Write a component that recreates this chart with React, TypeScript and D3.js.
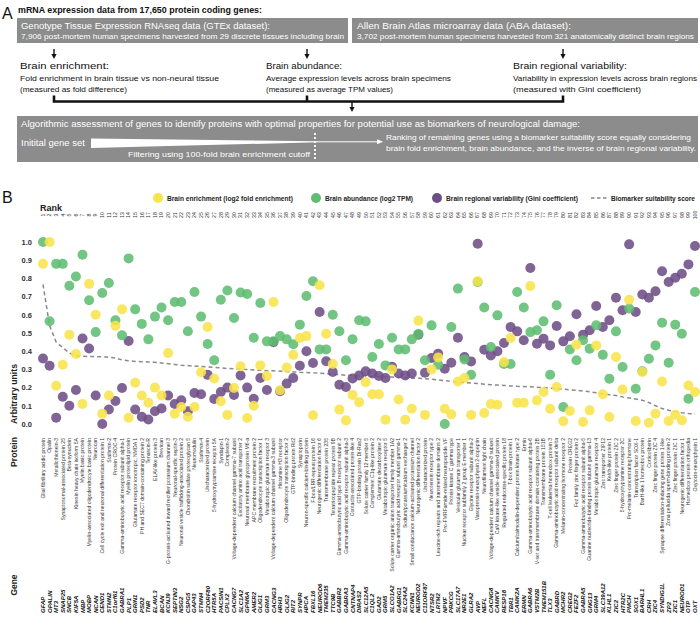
import React from 'react';
import * as d3 from 'd3';

const genes = ['GFAP','OPALIN','MT3','SNAP25','SNCB','KIF5A','MBP','MOBP','NCAN','CEND1','STMN2','C1orf61','GABRA1','PLP1','GRIN1','PSD2','TNR','ELAVL3','BCAN','KCNJ9','SEPTIN3','NSG2','CSPG5','GAP43','STMN4','C2ORF80','HTR5A','PACSIN1','CPLX2','CACNG7','SLC1A2','GPM6A','AMER2','OLIG1','GRM3','CACNG3','HRH3','OLIG2','RIT2','SYNPR','HPCA','FBXL16','NEUROD6','TMEM235','TTC9B','GABBR2','GABRA3','CNTNAP4','DIRAS2','SLC12A5','C1QL2','GAD2','GRM5','SLCO1A2','GABRG1','SLC24A2','KCNN1','NEUROD2','C11ORF87','NTSR2','LRTM2','NPVF','PRKCG','SLC17A7','NR2E1','GLRA2','AVP','NEFL','CACNG8','CAMKV','RESP18','TBR1','CAMK2A','ERMN','GABRA6','VSTM2B','TMEM151B','TLX3','GABRD','MCHR2','CREG2','FEZF2','GABRA5','GNG13','GRM4','SLC39A12','KLHL1','ZIC2','HTR2C','PMCH','SOX1','BARHL1','CRH','ZIC4','SYNDIG1L','ZP2','ZIC1','NEUROD1','OTP','OXT'];

const proteins = ['Glial fibrillary acidic protein','Opalin','Metallothionein-3','Synaptosomal-associated protein 25','Beta-synuclein','Kinesin heavy chain isoform 5A','Myelin basic protein','Myelin-associated oligodendrocyte basic protein','Neurocan','Cell cycle exit and neuronal differentiation protein 1','Stathmin-2','Protein CROC-4','Gamma-aminobutyric acid receptor subunit alpha-1','Myelin proteolipid protein','Glutamate receptor ionotropic, NMDA 1','PH and SEC7 domain-containing protein 2','Tenascin-R','ELAV-like protein 3','Brevican','G-protein-activated inward rectifier potassium channel 3','Neuronal-specific septin-3','Neuronal vesicle trafficking-associated protein 2','Chondroitin sulfate proteoglycan 5','Neuromodulin','Stathmin-4','Uncharacterized protein','5-hydroxytryptamine receptor 5A','Syndapin-1','Complexin-2','Voltage-dependent calcium channel gamma-7 subunit','Excitatory amino acid transporter 2','Neuronal membrane glycoprotein M6-a','APC membrane recruitment protein 2','Oligodendrocyte transcription factor 1','Metabotropic glutamate receptor 3','Voltage-dependent calcium channel gamma-3 subunit','Histamine H3 receptor','Oligodendrocyte transcription factor 2','GTP-binding protein Rit2','Synaptoporin','Neuron-specific calcium-binding protein','F-box/LRR-repeat protein 16','Neurogenic differentiation factor 6','Transmembrane protein 235','Tetratricopeptide repeat protein 9B','Gamma-aminobutyric acid type B receptor subunit 2','Gamma-aminobutyric acid receptor subunit alpha-3','Contactin-associated protein-like 4','GTP-binding protein Di-Ras2','Solute carrier family 12 member 5','Complement C1q-like protein 2','Glutamate decarboxylase 2','Metabotropic glutamate receptor 5','Solute carrier organic anion transporter family member 1A2','Gamma-aminobutyric acid receptor subunit gamma-1','Sodium/potassium/calcium exchanger 2','Small conductance calcium-activated potassium channel','Neurogenic differentiation factor 2','Uncharacterized protein','Neurotensin receptor type 2','Leucine-rich repeats and transmembrane domains 2','Pro-FMRFamide-related neuropeptide VF','Protein kinase C gamma type','Vesicular glutamate transporter 1','Nuclear receptor subfamily 2 group E member 1','Glycine receptor subunit alpha-2','Vasopressin-neurophysin 2-copeptin','Neurofilament light chain','Voltage-dependent calcium channel gamma-8 subunit','CaM kinase-like vesicle-associated protein','Regulated endocrine-specific protein 18','T-box brain protein 1','Calcium/calmodulin-dependent protein kinase type 2','Ermin','Gamma-aminobutyric acid receptor subunit alpha-6','V-set and transmembrane domain-containing protein 2B','Transmembrane protein 151B','T-cell leukemia homeobox protein 3','Gamma-aminobutyric acid receptor subunit delta','Melanin-concentrating hormone receptor 2','Protein CREG2','Fez family zinc finger protein 2','Gamma-aminobutyric acid receptor subunit alpha-5','Guanine nucleotide-binding protein subunit gamma-13','Metabotropic glutamate receptor 4','Zinc transporter ZIP12','Kelch-like protein 1','Zinc finger protein ZIC 2','5-hydroxytryptamine receptor 2C','Pro-melanin-concentrating hormone','Transcription factor SOX-1','BarH-like 1 homeobox protein','Corticoliberin','Zinc finger protein ZIC 4','Synapse differentiation-inducing gene protein 1-like','Zona pellucida sperm-binding protein 2','Zinc finger protein ZIC 1','Neurogenic differentiation factor 1','Homeobox protein orthopedia','Oxytocin-neurophysin 1'];

const enrichment = [0.88,1.0,0.21,0.326,0.49,0.385,0.11,0.77,0.60,0.057,
0.157,0.54,0.63,0.035,0.227,0.157,0.117,0.2,0.157,0.39,
0.057,0.093,0.04,0.093,0.284,0.533,0.25,0.125,0.05,0.198,
0.317,0.033,0.1,0.322,0.264,0.67,0.185,0.31,0.38,0.473,
0.483,0.048,0.762,0.496,0.33,0.079,0.02,0.16,0.12,0.23,
0.163,0.163,0.024,0.3,0.135,0.024,0.084,0.568,0.05,0.3,
0.366,0.084,0.053,0.234,0.253,0.05,0.784,0.06,0.11,0.106,
0.34,0.473,0.117,0.117,0.758,0.13,0.176,0.084,0.203,0.015,
0.071,0.436,0.011,0.075,0.432,0.163,0.038,0.368,0.19,0.683,
0.016,0.286,0.007,0.057,0.234,0.016,0.051,0.02,0.212,0.176];

const abundance = [1.0,0.565,0.88,0.88,0.76,0.81,0.93,0.68,0.505,0.72,
0.775,0.57,0.487,0.91,0.63,0.55,0.465,0.59,0.64,0.57,
0.67,0.67,0.51,0.725,0.59,0.44,0.35,0.683,0.734,0.582,
0.723,0.714,0.474,0.665,0.454,0.454,0.483,0.465,0.438,0.546,
0.703,0.784,0.41,0.41,0.6,0.51,0.35,0.466,0.57,0.564,
0.368,0.44,0.322,0.474,0.41,0.41,0.465,0.495,0.35,0.542,
0.326,0.0,0.533,0.744,0.355,0.27,0.78,0.64,0.423,0.597,
0.33,0.33,0.725,0.64,0.505,0.515,0.564,0.271,0.652,0.093,
0.41,0.35,0.46,0.414,0.542,0.38,0.249,0.509,0.313,0.634,
0.194,0.29,0.359,0.432,0.557,0.337,0.546,0.496,0.139,0.725];

const variability = [0.36,0.32,0.035,0.15,0.10,0.187,0.47,0.415,0.157,0.0,
0.08,0.126,0.198,0.456,0.08,0.04,0.025,0.07,0.085,0.157,
0.11,0.13,0.07,0.17,0.163,0.27,0.137,0.176,0.2,0.16,
0.267,0.2,0.139,0.253,0.187,0.45,0.18,0.222,0.253,0.32,
0.4,0.335,0.615,0.345,0.286,0.216,0.203,0.25,0.266,0.29,
0.277,0.264,0.253,0.315,0.277,0.267,0.277,0.49,0.282,0.363,
0.386,0.304,0.337,0.474,0.368,0.344,0.99,0.408,0.377,0.4,
0.445,0.533,0.509,0.46,0.857,0.441,0.469,0.432,0.538,0.454,
0.482,0.603,0.49,0.515,0.648,0.533,0.57,0.694,0.625,0.987,
0.615,0.712,0.694,0.729,0.839,0.78,0.804,0.826,0.877,0.978];

const suitability = [0.767,0.54,0.45,0.42,0.39,0.375,0.372,0.371,0.37,0.369,
0.368,0.362,0.352,0.347,0.344,0.342,0.341,0.339,0.335,0.331,
0.327,0.323,0.321,0.318,0.316,0.314,0.311,0.308,0.305,0.303,
0.301,0.299,0.297,0.295,0.293,0.292,0.29,0.288,0.286,0.284,
0.283,0.281,0.279,0.277,0.274,0.271,0.268,0.266,0.265,0.264,
0.262,0.261,0.259,0.258,0.256,0.254,0.252,0.251,0.249,0.246,
0.242,0.238,0.235,0.231,0.228,0.225,0.222,0.219,0.216,0.214,
0.212,0.209,0.207,0.206,0.204,0.202,0.2,0.197,0.194,0.191,
0.188,0.185,0.181,0.177,0.172,0.166,0.161,0.156,0.149,0.143,
0.137,0.13,0.118,0.1,0.085,0.076,0.068,0.062,0.058,0.055];

const yTicks = ['0.0','0.1','0.2','0.3','0.4','0.5','0.6','0.7','0.8','0.9','1.0'];

const YELLOW = '#F8E44B';
const GREEN = '#5FBD72';
const PURPLE = '#6D4F86';
const GRAY = '#8C8C8C';
const FONT = "'Liberation Sans', Arial, sans-serif";

const legendItems = [
  { label: 'Brain enrichment (log2 fold enrichment)', color: YELLOW, x: 158, w: 126 },
  { label: 'Brain abundance (log2 TPM)', color: GREEN, x: 316, w: 88 },
  { label: 'Brain regional variability (Gini coefficient)', color: PURPLE, x: 437, w: 132 },
];

function T(props: any) {
  const { x, y, w, size, weight, fill, anchor, children, italic } = props;
  return (
    <text x={x} y={y} fontSize={size} fontWeight={weight || 'normal'} fill={fill || '#111'}
      textAnchor={anchor || 'start'} fontStyle={italic ? 'italic' : 'normal'}
      textLength={w} lengthAdjust={w ? 'spacingAndGlyphs' : undefined}>{children}</text>
  );
}

function DownArrow({ x, y1, y2 }: { x: number; y1: number; y2: number }) {
  return (
    <g>
      <line x1={x} x2={x} y1={y1} y2={y2 - 4} stroke="#111" strokeWidth={1.4} />
      <polygon points={`${x - 2.6},${y2 - 5} ${x + 2.6},${y2 - 5} ${x},${y2}`} fill="#111" />
    </g>
  );
}

function VLabel({ cx, cy, len, children }: { cx: number; cy: number; len: number; children: any }) {
  return (
    <text transform={`translate(${cx},${cy}) rotate(-90)`} fontSize={8.8} fontWeight="bold"
      textAnchor="middle" fill="#222" textLength={len} lengthAdjust="spacingAndGlyphs">{children}</text>
  );
}

export default function App() {
  const x = d3.scaleLinear().domain([1, 100]).range([43, 695]);
  const y = d3.scaleLinear().domain([0, 1]).range([424, 242]);
  const line = d3.line<number>().x((_, i) => x(i + 1)).y((d) => y(d));
  const R = 5;
  const op = 0.88;

  return (
    <svg width={700} height={633} style={{ position: 'absolute', left: 0, top: 0, background: '#fff' }} fontFamily={FONT}>
      {/* Panel A */}
      <T x={2} y={19} size={16}>A</T>
      <T x={18} y={13} size={8.5} weight="bold" w={244}>mRNA expression data from 17,650 protein coding genes:</T>
      <rect x={17} y={18} width={331} height={25} fill={GRAY} />
      <rect x={352} y={18} width={346} height={25} fill={GRAY} />
      <T x={21} y={28.7} size={8.5} fill="#fff" w={249}>Genotype Tissue Expression RNAseq data (GTEx dataset):</T>
      <T x={21} y={39.3} size={7} fill="#fff" w={323}>7,906 post-mortem human specimens harvested from 29 discrete tissues including brain</T>
      <T x={357} y={28.7} size={8.5} fill="#fff" w={214}>Allen Brain Atlas microarray data (ABA dataset):</T>
      <T x={357} y={39.3} size={7} fill="#fff" w={337}>3,702 post-mortem human specimens harvested from 321 anatomically distinct brain regions</T>
      <DownArrow x={54} y1={49} y2={59} />
      <DownArrow x={307} y1={49} y2={59} />
      <DownArrow x={563} y1={49} y2={59} />
      <T x={20} y={69} size={9.5} w={89}>Brain enrichment:</T>
      <T x={20} y={81} size={7.5} w={199}>Fold enrichment in brain tissue vs non-neural tissue</T>
      <T x={20} y={92} size={7.5} w={107}>(measured as fold difference)</T>
      <T x={266} y={69} size={9.5} w={76}>Brain abundance:</T>
      <T x={266} y={81} size={7.5} w={185}>Average expression levels across brain specimens</T>
      <T x={266} y={92} size={7.5} w={127}>(measured as average TPM values)</T>
      <T x={513} y={69} size={9.5} w={114}>Brain regional variability:</T>
      <T x={513} y={81} size={7.5} w={184}>Variability in expression levels across brain regions</T>
      <T x={513} y={92} size={7.5} w={128}>(measured with Gini coefficient)</T>
      <path d="M54,95.5 V101.5 H563 V95.5 M307,95.5 V101.5" fill="none" stroke="#111" strokeWidth={2.6} />
      <DownArrow x={352} y1={102} y2={112} />
      <rect x={17} y={116} width={681} height={46} fill={GRAY} />
      <T x={21} y={127} size={8.5} fill="#fff" w={559}>Algorithmic assessment of genes to identify proteins with optimal properties for potential use as biomarkers of neurological damage:</T>
      <T x={21} y={146} size={8.5} fill="#fff" w={64}>Initital gene set</T>
      <polygon points="91,138.5 91,148 318,142.3 318,141.3" fill="#fff" />
      <line x1={318} x2={378} y1={141.8} y2={141.8} stroke="#fff" strokeWidth={1} />
      <polygon points="377,139.3 383,141.8 377,144.3" fill="#fff" />
      <line x1={315} x2={315} y1={133} y2={160} stroke="#fff" strokeWidth={1.8} strokeDasharray="2,2" />
      <T x={128} y={156.5} size={7} fill="#fff" w={182}>Filtering using 100-fold brain enrichment cutoff</T>
      <T x={386} y={140} size={7.5} fill="#fff" w={305}>Ranking of remaining genes using a biomarker suitability score equally considering</T>
      <T x={386} y={151} size={7.5} fill="#fff" w={310}>brain fold enrichment, brain abundance, and the inverse of brain regional variability.</T>

      {/* Panel B */}
      <T x={2} y={203} size={16}>B</T>
      {legendItems.map((d) => (
        <g key={d.label}>
          <circle cx={d.x} cy={198} r={R} fill={d.color} />
          <T x={d.x + 9} y={200.6} size={7.2} weight="bold" w={d.w} fill="#222">{d.label}</T>
        </g>
      ))}
      <line x1={591} x2={607} y1={198} y2={198} stroke="#888" strokeWidth={1.5} strokeDasharray="3.5,2.5" />
      <T x={611} y={200.6} size={7} weight="bold" w={84} fill="#222">Biomarker suitability score</T>
      <T x={40} y={210.5} size={9} weight="bold" w={22} fill="#222">Rank</T>

      {genes.map((_, i) => (
        <text key={'r' + i} transform={`translate(${x(i + 1) + 1.8},215) rotate(-90)`} fontSize={5.2}
          textAnchor="middle" fill="#333">{i + 1}</text>
      ))}

      {yTicks.map((t) => (
        <text key={t} x={32} y={y(+t) + 2.7} fontSize={7.5} fontWeight="bold" textAnchor="end" fill="#333">{t}</text>
      ))}

      <path d={line(suitability) || ''} fill="none" stroke="#8a8a8a" strokeWidth={1.5} strokeDasharray="4,3" />

      {variability.map((v, i) => (
        <circle key={'p' + i} cx={x(i + 1)} cy={y(v)} r={R} fill={PURPLE} fillOpacity={op} />
      ))}
      {abundance.map((v, i) => (
        <circle key={'g' + i} cx={x(i + 1)} cy={y(v)} r={R} fill={GREEN} fillOpacity={op} />
      ))}
      {enrichment.map((v, i) => (
        <circle key={'y' + i} cx={x(i + 1)} cy={y(v)} r={R} fill={YELLOW} fillOpacity={op} />
      ))}

      <VLabel cx={17} cy={394} len={60}>Arbitrary units</VLabel>
      <VLabel cx={17} cy={452} len={30}>Protein</VLabel>
      <VLabel cx={17} cy={585} len={21}>Gene</VLabel>

      {proteins.map((p, i) => (
        <text key={'pr' + i} transform={`translate(${x(i + 1) + 1.8},438) rotate(-90)`} fontSize={5.1}
          textAnchor="end" fill="#333">{p}</text>
      ))}
      {genes.map((g, i) => (
        <text key={'ge' + i} transform={`translate(${x(i + 1) + 2},613) rotate(-90)`} fontSize={6}
          fontWeight="bold" fontStyle="italic" textAnchor="start" fill="#111">{g}</text>
      ))}
    </svg>
  );
}
